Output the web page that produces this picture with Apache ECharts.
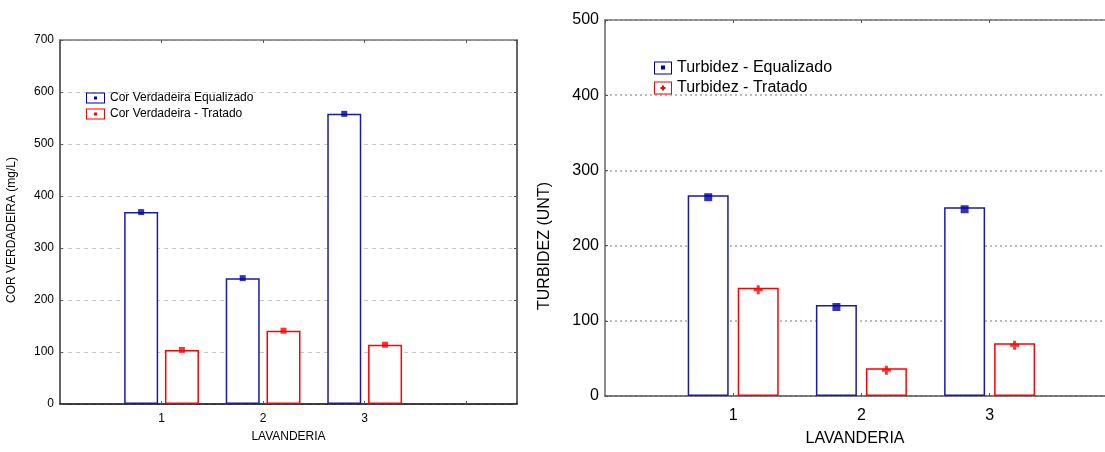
<!DOCTYPE html>
<html>
<head>
<meta charset="utf-8">
<script src="https://cdn.jsdelivr.net/npm/echarts@6/dist/echarts.min.js"></script>
<style>
  html, body { margin: 0; padding: 0; background: #fff; }
  #main { width: 1105px; height: 452px; }
</style>
</head>
<body>
<div id="main"></div>
<script>
// dados
var lavanderias = [1, 2, 3];
var corEqualizado = [369, 242, 558];
var corTratado = [104, 141, 114];
var turbEqualizado = [267, 121, 251];
var turbTratado = [144, 37, 70];
var corTicks = [0, 100, 200, 300, 400, 500, 600, 700];
var turbTicks = [0, 100, 200, 300, 400, 500];

var FONT = 'Liberation Sans';
var BLUE = '#0000a0';
var BLUE_BAR = '#1a1aa8';
var RED = '#ff0000';

function pares(vals) {
  return lavanderias.map(function (l, i) { return [l, vals[i]]; });
}

// icones da legenda: caixa vazada com marcador dentro
var iconQuadL = 'path://M0,0H19V11H0Z M1,1V10H18V1Z M8,4H11V7H8Z';
var iconQuadR = 'path://M0,0H18V13H0Z M1,1V12H17V1Z M7,4H11V8H7Z';
var iconCruzR = 'path://M0,0H18V13H0Z M1,1V12H17V1Z M8,4H10V5.5H11.5V7.5H10V9H8V7.5H6.5V5.5H8Z';
var plus = 'path://M3,0H6V3H9V6H6V9H3V6H0V3H3Z';

var chart = echarts.init(document.getElementById('main'));

// o painel da direita é cortado na borda da imagem: max < 4.5
function xAxes(gi, max, fs, margin, gap, pad) {
  return [
    {
      gridIndex: gi, type: 'value', min: 0, max: max, interval: 1,
      name: 'LAVANDERIA', nameLocation: 'middle', nameGap: gap,
      nameTextStyle: { fontFamily: FONT, fontSize: fs, color: '#000', padding: pad },
      axisLine: { onZero: false, lineStyle: { color: gi === 0 ? '#000' : '#555', width: 1.5 } },
      axisTick: { inside: true, length: 3, lineStyle: { color: '#555' } },
      axisLabel: {
        fontFamily: FONT, fontSize: fs, color: '#000', margin: margin,
        showMinLabel: false, showMaxLabel: false,
        formatter: function (v) { return lavanderias.indexOf(v) >= 0 ? String(v) : ''; }
      },
      splitLine: { show: false }
    },
    {
      gridIndex: gi, type: 'value', position: 'top', min: 0, max: max, interval: 1,
      axisLine: { onZero: false, lineStyle: { color: '#777', width: 1.5 } },
      axisTick: { inside: true, length: 3, lineStyle: { color: '#555' } },
      axisLabel: { show: false },
      splitLine: { show: false }
    }
  ];
}

function yAxes(gi, ticks, name, fs, nfs, gap, pad, split, showRight) {
  var max = ticks[ticks.length - 1];
  return [
    {
      gridIndex: gi, type: 'value', min: 0, max: max, interval: ticks[1] - ticks[0],
      name: name, nameLocation: 'middle', nameGap: gap,
      nameTextStyle: { fontFamily: FONT, fontSize: nfs, color: '#000', padding: pad },
      axisLine: { show: true, onZero: false, lineStyle: { color: gi === 0 ? '#333' : '#666', width: 1.5 } },
      axisTick: { show: true, inside: true, length: 3, lineStyle: { color: '#555' } },
      axisLabel: { fontFamily: FONT, fontSize: fs, color: '#000', margin: 6 },
      splitLine: { show: true, lineStyle: split }
    },
    {
      gridIndex: gi, type: 'value', position: 'right', min: 0, max: max, interval: ticks[1] - ticks[0],
      show: showRight,
      axisLine: { show: true, onZero: false, lineStyle: { color: '#333', width: 1.5 } },
      axisTick: { show: true, inside: true, length: 3, lineStyle: { color: '#555' } },
      axisLabel: { show: false },
      splitLine: { show: false }
    }
  ];
}

var option = {
  backgroundColor: '#fff',
  animation: false,
  grid: [
    { left: 60, top: 40, width: 457, height: 364 },
    { left: 605, top: 20, width: 500, height: 384 }
  ],
  legend: [
    {
      left: 81, top: 87, orient: 'vertical', itemWidth: 19, itemHeight: 11, itemGap: 4,
      itemStyle: { borderWidth: 0 },
      textStyle: { fontFamily: FONT, fontSize: 12, color: '#000' },
      data: [
        { name: 'Cor Verdadeira Equalizado', icon: iconQuadL, itemStyle: { color: BLUE } },
        { name: 'Cor Verdadeira - Tratado', icon: iconQuadL, itemStyle: { color: RED } }
      ]
    },
    {
      left: 649, top: 55, orient: 'vertical', itemWidth: 18, itemHeight: 13, itemGap: 4,
      itemStyle: { borderWidth: 0 },
      textStyle: { fontFamily: FONT, fontSize: 16, color: '#000' },
      data: [
        { name: 'Turbidez - Equalizado', icon: iconQuadR, itemStyle: { color: BLUE } },
        { name: 'Turbidez - Tratado', icon: iconCruzR, itemStyle: { color: RED } }
      ]
    }
  ],
  xAxis: xAxes(0, 4.5, 12, 9, 27, [0, 0, 0, 0]).concat(xAxes(1, 3.9, 16, 12, 35, [0, 0, 0, 0])),
  yAxis: yAxes(0, corTicks, 'COR VERDADEIRA (mg/L)', 12, 12, 42, [0, 16, 0, 0],
      { color: '#c8c8c8', type: [4, 4], width: 1 }, true)
    .concat(yAxes(1, turbTicks, 'TURBIDEZ (UNT)', 16, 16, 52, [0, 76, 0, 0],
      { color: '#bbbbbb', type: [2, 3], width: 2 }, false)),
  series: [
    // lado esquerdo: cor verdadeira
    {
      name: 'Cor Verdadeira Equalizado', type: 'bar', xAxisIndex: 0, yAxisIndex: 0,
      barWidth: 34, barGap: '20%', data: pares(corEqualizado),
      itemStyle: { color: '#fff', borderColor: BLUE_BAR, borderWidth: 1.5 }
    },
    {
      name: 'Cor Verdadeira - Tratado', type: 'bar', xAxisIndex: 0, yAxisIndex: 0,
      barWidth: 34, barGap: '20%', data: pares(corTratado),
      itemStyle: { color: '#fff', borderColor: RED, borderWidth: 1.5 }
    },
    {
      name: 'Cor Verdadeira Equalizado', type: 'scatter', xAxisIndex: 0, yAxisIndex: 0,
      symbol: 'rect', symbolSize: 6, symbolOffset: [-20.4, 0], data: pares(corEqualizado),
      itemStyle: { color: BLUE }, z: 5
    },
    {
      name: 'Cor Verdadeira - Tratado', type: 'scatter', xAxisIndex: 0, yAxisIndex: 0,
      symbol: 'rect', symbolSize: 6, symbolOffset: [20.4, 0], data: pares(corTratado),
      itemStyle: { color: RED }, z: 5
    },
    // lado direito: turbidez
    {
      name: 'Turbidez - Equalizado', type: 'bar', xAxisIndex: 2, yAxisIndex: 2,
      barWidth: 41, barGap: '22%', data: pares(turbEqualizado),
      itemStyle: { color: '#fff', borderColor: BLUE_BAR, borderWidth: 1.5 }
    },
    {
      name: 'Turbidez - Tratado', type: 'bar', xAxisIndex: 2, yAxisIndex: 2,
      barWidth: 41, barGap: '22%', data: pares(turbTratado),
      itemStyle: { color: '#fff', borderColor: RED, borderWidth: 1.5 }
    },
    {
      name: 'Turbidez - Equalizado', type: 'scatter', xAxisIndex: 2, yAxisIndex: 2,
      symbol: 'rect', symbolSize: 8, symbolOffset: [-25, 2], data: pares(turbEqualizado),
      itemStyle: { color: BLUE }, z: 5
    },
    {
      name: 'Turbidez - Tratado', type: 'scatter', xAxisIndex: 2, yAxisIndex: 2,
      symbol: plus, symbolSize: 9, symbolOffset: [25, 2], data: pares(turbTratado),
      itemStyle: { color: RED }, z: 5
    }
  ]
};

chart.setOption(option);
</script>
</body>
</html>
